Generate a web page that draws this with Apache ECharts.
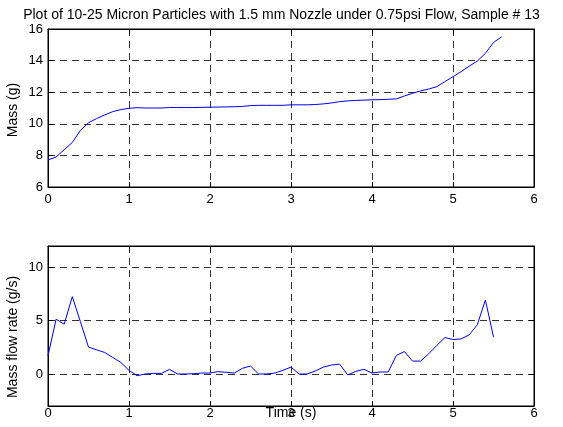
<!DOCTYPE html>
<html>
<head>
<meta charset="utf-8">
<script src="https://cdn.jsdelivr.net/npm/echarts@6/dist/echarts.min.js"></script>
<style>
  html, body { margin: 0; padding: 0; background: #fff; }
  #chart { width: 563px; height: 427px; }
</style>
</head>
<body>
<div id="chart"></div>
<script>
// sample times (s)
const massTime = [0, 0.1, 0.2, 0.3, 0.4, 0.5, 0.6, 0.7, 0.8, 0.9, 1.0, 1.1, 1.2, 1.3, 1.4, 1.5, 1.6, 1.7, 1.8, 1.9,
  2.0, 2.1, 2.2, 2.3, 2.4, 2.5, 2.6, 2.7, 2.8, 2.9, 3.0, 3.1, 3.2, 3.3, 3.4, 3.5, 3.6, 3.7, 3.8, 3.9,
  4.0, 4.1, 4.2, 4.3, 4.4, 4.5, 4.6, 4.7, 4.8, 4.9, 5.0, 5.1, 5.2, 5.3, 5.4, 5.5, 5.6]
// mass (g)
const mass = [7.71, 7.9, 8.36, 8.82, 9.58, 10.07, 10.33, 10.56, 10.77, 10.9, 10.98, 11.02, 11.0, 11.0, 11.0, 11.03, 11.03, 11.03, 11.03, 11.04,
  11.05, 11.06, 11.07, 11.08, 11.1, 11.15, 11.17, 11.17, 11.17, 11.17, 11.2, 11.2, 11.2, 11.22, 11.26, 11.32, 11.4, 11.45, 11.48, 11.5,
  11.52, 11.53, 11.55, 11.58, 11.76, 11.93, 12.08, 12.2, 12.35, 12.67, 12.98, 13.3, 13.65, 13.97, 14.46, 15.15, 15.5]

const rateTime = massTime.slice(0, 56)
// mass flow rate (g/s)
const rate = [1.71, 5.14, 4.67, 7.25, 4.9, 2.52, 2.27, 2.02, 1.55, 1.08,
  0.34, -0.16, 0, 0.06, 0.06, 0.43, 0, 0, 0.03, 0.09,
  0.09, 0.22, 0.16, 0.09, 0.53, 0.75, 0, 0, 0.09, 0.34,
  0.65, 0, 0, 0.28, 0.65, 0.84, 0.93, -0.09, 0.25, 0.44,
  0.09, 0.19, 0.19, 1.74, 2.11, 1.21, 1.21, 1.9, 2.67, 3.42,
  3.23, 3.29, 3.67, 4.61, 6.94, 3.46]

const xTicks = [0, 1, 2, 3, 4, 5, 6]
const massTicks = [6, 8, 10, 12, 14, 16]
const rateTicks = [0, 5, 10]

const FONT = '"Liberation Sans", Arial, sans-serif'
const LINE = '#0000ff'
const DASH = { color: '#333', type: [7, 5], width: 1 }

function xAxisBase(grid, pos, labelMargin) {
  return {
    type: 'value', gridIndex: grid, position: pos,
    min: xTicks[0], max: xTicks[xTicks.length - 1], interval: 1,
    axisLine: { show: true, onZero: false, lineStyle: { color: '#000' } },
    axisTick: { show: true, inside: true, length: 5, lineStyle: { color: '#000' } },
    axisLabel: { show: pos === 'bottom', margin: labelMargin, color: '#000', fontSize: 13, fontFamily: FONT },
    splitLine: { show: pos === 'bottom', lineStyle: DASH },
  }
}

function yAxisBase(grid, pos, min, max, ticks) {
  return {
    type: 'value', gridIndex: grid, position: pos, min, max,
    axisLine: { show: true, onZero: false, lineStyle: { color: '#000' } },
    axisTick: { show: true, inside: true, length: 5, lineStyle: { color: '#000' }, customValues: ticks },
    axisLabel: { show: pos === 'left', margin: 5, color: '#000', fontSize: 13, fontFamily: FONT, customValues: ticks },
    splitLine: { show: pos === 'left', lineStyle: DASH },
  }
}

const chart = echarts.init(document.getElementById('chart'), null, { renderer: 'canvas' })

const yMass = yAxisBase(0, 'left', 6, 16, massTicks)
yMass.name = 'Mass (g)'
yMass.nameLocation = 'middle'
yMass.nameGap = 28
yMass.nameMoveOverlap = false
yMass.nameTextStyle = { color: '#000', fontSize: 14, fontFamily: FONT, padding: [0, 4, 0, 0] }

const yRate = yAxisBase(1, 'left', -3, 12, rateTicks)
yRate.name = 'Mass flow rate (g/s)'
yRate.nameLocation = 'middle'
yRate.nameGap = 28
yRate.nameMoveOverlap = false
yRate.nameTextStyle = { color: '#000', fontSize: 14, fontFamily: FONT, padding: [0, 22, 0, 0] }

const xRate = xAxisBase(1, 'bottom', 1)
xRate.name = 'Time (s)'
xRate.nameLocation = 'middle'
xRate.nameGap = 0
xRate.nameMoveOverlap = false
xRate.nameTextStyle = { color: '#000', fontSize: 14, fontFamily: FONT, verticalAlign: 'top' }

chart.setOption({
  animation: false,
  title: {
    text: 'Plot of 10-25 Micron Particles with 1.5 mm Nozzle under 0.75psi Flow, Sample # 13',
    left: 'center', top: 3,
    textStyle: { color: '#000', fontSize: 14, fontWeight: 'normal', fontFamily: FONT },
  },
  grid: [
    { left: 48, top: 29, width: 486, height: 158, outerBoundsMode: 'none', show: true, borderColor: '#000', borderWidth: 1, backgroundColor: '#fff' },
    { left: 48, top: 246, width: 486, height: 160, outerBoundsMode: 'none', show: true, borderColor: '#000', borderWidth: 1, backgroundColor: '#fff' },
  ],
  xAxis: [
    xAxisBase(0, 'bottom', 6),
    xAxisBase(0, 'top', 6),
    xRate,
    xAxisBase(1, 'top', 1),
  ],
  yAxis: [
    yMass,
    yAxisBase(0, 'right', 6, 16, massTicks),
    yRate,
    yAxisBase(1, 'right', -3, 12, rateTicks),
  ],
  series: [
    {
      type: 'line', xAxisIndex: 0, yAxisIndex: 0,
      data: massTime.map((t, i) => [t, mass[i]]),
      showSymbol: false, lineStyle: { color: LINE, width: 1 }, itemStyle: { color: LINE },
    },
    {
      type: 'line', xAxisIndex: 2, yAxisIndex: 2,
      data: rateTime.map((t, i) => [t, rate[i]]),
      showSymbol: false, lineStyle: { color: LINE, width: 1 }, itemStyle: { color: LINE },
    },
  ],
})
</script>
</body>
</html>
